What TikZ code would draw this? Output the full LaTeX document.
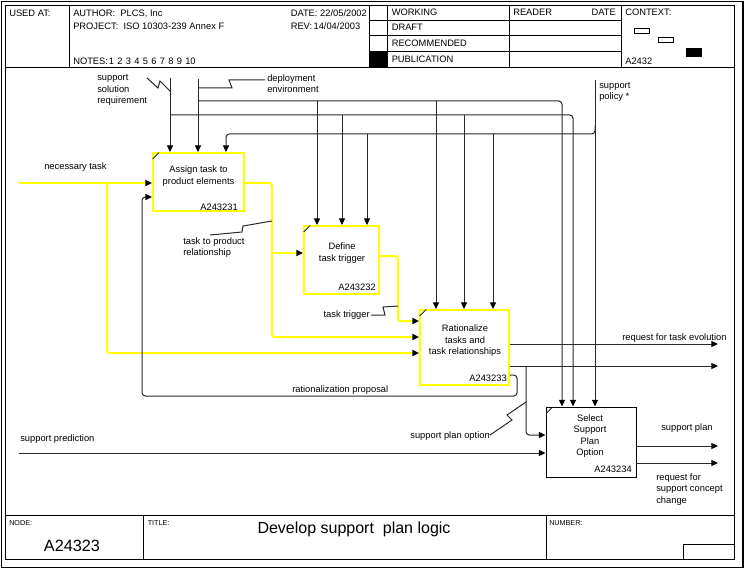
\documentclass[tikz,border=0pt]{standalone}
\usepackage{fontspec}
\setmainfont{Liberation Sans}
\usetikzlibrary{arrows.meta,fit}
\definecolor{hl}{RGB}{255,255,0}
\definecolor{ln}{RGB}{40,40,40}
\begin{document}
\begin{tikzpicture}[x=0.75pt,y=-0.75pt,
  lbl/.style={font=\fontsize{7}{8.6}\selectfont, inner sep=0pt, align=left},
  hdr/.style={font=\fontsize{7}{8.6}\selectfont, inner sep=0pt, anchor=base west},
  small/.style={font=\fontsize{5.4}{6}\selectfont, inner sep=0pt, anchor=base west},
  fn/.style={draw=black, line width=0.7pt, fill=white, inner sep=0pt},
  yfn/.style={draw=hl, line width=1.4pt, fill=white, inner sep=0pt,
    preaction={draw=black, line width=2.1pt}},
  wire/.style={draw=ln, line width=0.75pt},
  ywire/.style={draw=hl, line width=1.5pt},
  arr/.style={-{Triangle[length=5pt,width=4.5pt,color=black]}},
  frame/.style={draw=black, line width=0.7pt},
  tick/.style={draw=black, line width=0.5pt}
]
\useasboundingbox (0,0) rectangle (745,570);
% ---------- frame ----------
\draw[draw=black, line width=1.3pt] (1.5,1.5) rectangle (743,567.5);
\draw[frame] (5.5,5.5) rectangle (734,559);
% header
\draw[frame] (5.5,67) -- (734,67);
\draw[frame] (69,5.5) -- (69,67);
\draw[frame] (369,5.5) -- (369,67);
\draw[frame] (387,5.5) -- (387,67);
\draw[frame] (509,5.5) -- (509,67);
\draw[frame] (621,5.5) -- (621,67);
\draw[frame] (369,20) -- (621,20);
\draw[frame] (369,35.7) -- (621,35.7);
\draw[frame] (369,51.5) -- (621,51.5);
\fill[black] (369,51.5) rectangle (387,67);
\node[hdr] (usedat) at (9,16.7) {USED AT:};
\node[hdr] (author) at (73,16.7) {AUTHOR:\ \ PLCS, Inc};
\node[hdr] (project) at (73,29.8) {PROJECT:\ \ ISO 10303-239 Annex F};
\node[hdr] (notes) at (73,64.3) {NOTES:};
\node[hdr] (note1) at (108.5,64.3) {1};
\node[hdr] (note2) at (117,64.3) {2};
\node[hdr] (note3) at (125.5,64.3) {3};
\node[hdr] (note4) at (134,64.3) {4};
\node[hdr] (note5) at (142.5,64.3) {5};
\node[hdr] (note6) at (151,64.3) {6};
\node[hdr] (note7) at (159.5,64.3) {7};
\node[hdr] (note8) at (168,64.3) {8};
\node[hdr] (note9) at (176.5,64.3) {9};
\node[hdr] (note10) at (185,64.3) {10};
\node[hdr] (date) at (290.5,16.7) {DATE: 22/05/2002};
\node[hdr] (rev) at (290.5,29.8) {REV:};
\node[hdr] (revd) at (313.3,29.8) {14/04/2003};
\node[hdr] (working) at (391.5,15.9) {WORKING};
\node[hdr] (draft) at (391.5,30.5) {DRAFT};
\node[hdr] (recom) at (391.5,46.2) {RECOMMENDED};
\node[hdr] (publ) at (391.5,62.4) {PUBLICATION};
\node[hdr] (reader) at (513,15.9) {READER};
\node[hdr, anchor=base east] (rdate) at (616,15.9) {DATE};
\node[hdr] (context) at (625,15.9) {CONTEXT:};
\node[hdr] (ctxid) at (625,64.3) {A2432};
\draw[line width=0.6pt] (634,28) rectangle (649,33.5);
\draw[line width=0.6pt] (658,37) rectangle (673,42.5);
\fill[black] (686,48) rectangle (702,57);
% footer
\draw[frame] (5.5,515) -- (734,515);
\draw[frame] (143.5,515) -- (143.5,559);
\draw[frame] (546,515) -- (546,559);
\draw[frame] (683,544) -- (683,559);
\draw[frame] (683,544) -- (734,544);
\node[small] (nodel) at (9,525) {NODE:};
\node[small] (titlel) at (147.5,525) {TITLE:};
\node[small] (numl) at (549,525) {NUMBER:};
\node[font=\fontsize{12.2}{14}\selectfont, inner sep=0pt, anchor=base] (nodeid) at (72,551.7) {A24323};
\node[font=\fontsize{12}{14}\selectfont, inner sep=0pt, anchor=base] (title) at (354,533) {Develop support\ \ plan logic};
% ---------- activity boxes ----------
\node[yfn, fit={(153,153) (244,211)}] (b1) {};
\node[yfn, fit={(304,226) (379,294)}] (b2) {};
\node[yfn, fit={(420,310) (509,385)}] (b3) {};
\node[fn, fit={(546,407) (636,477)}] (b4) {};
\draw[tick] ([shift={(0.5,7)}]b1.north west) -- ([shift={(7,0.5)}]b1.north west);
\draw[tick] ([shift={(0.5,7)}]b2.north west) -- ([shift={(7,0.5)}]b2.north west);
\draw[tick] ([shift={(0.5,7)}]b3.north west) -- ([shift={(7,0.5)}]b3.north west);
\draw[tick] ([shift={(0.5,7)}]b4.north west) -- ([shift={(7,0.5)}]b4.north west);
\node[lbl, align=center] (b1t) at (198.5,176) {Assign task to\\product elements};
\node[lbl, anchor=base east] (b1id) at (238,210) {A243231};
\node[lbl, align=center] (b2t) at (342,253) {Define\\task trigger};
\node[lbl, anchor=base east] (b2id) at (376,290) {A243232};
\node[lbl, align=center] (b3t) at (465,341) {Rationalize\\tasks and\\task relationships};
\node[lbl, anchor=base east] (b3id) at (507,381.5) {A243233};
\node[lbl, align=center] (b4t) at (590,436) {Select\\Support\\Plan\\Option};
\node[lbl, anchor=base east] (b4id) at (632,472) {A243234};
% ---------- free ends ----------
\coordinate (ssr) at (170,78);
\coordinate (dep) at (198,79);
\coordinate (pol) at (595,80);
\coordinate (nt) at (19,183);
\coordinate (spred) at (19,453);
\coordinate (rte) at (718,344);
\coordinate (o2) at (718,366);
\coordinate (spl) at (718,446);
\coordinate (rsc) at (718,463);
% ---------- controls ----------
\draw[wire,arr] (ssr) -- (ssr |- b1.north);
\draw[wire,arr] (dep) -- (dep |- b1.north);
\draw[wire,arr] (pol) -- (pol |- b4.north);
\draw[wire,arr,rounded corners=2.5pt] (dep |- 0,101) -- (562,101) -- (562,0 |- b4.north);
\draw[wire,arr] (317,101) -- (317,0 |- b2.north);
\draw[wire,arr] (436,101) -- (436,0 |- b3.north);
\draw[wire,arr,rounded corners=2.5pt] (ssr |- 0,115) -- (573,115) -- (573,0 |- b4.north);
\draw[wire,arr] (342,115) -- (342,0 |- b2.north);
\draw[wire,arr] (464,115) -- (464,0 |- b3.north);
\draw[wire,arr,rounded corners=2.5pt] (pol |- 0,126) -- (pol |- 0,134) -- (226,134) -- (226,0 |- b1.north);
\draw[wire,arr] (367,134) -- (367,0 |- b2.north);
\draw[wire,arr] (493,134) -- (493,0 |- b3.north);
% ---------- inputs / outputs ----------
\draw[ywire,arr] (nt) -- (nt -| b1.west);
\draw[ywire,arr,rounded corners=2pt] (107,183) -- (107,353) -- (b3.west |- 0,353);
\draw[ywire,arr,rounded corners=2pt] (b1.east |- 0,183) -- (272,183) -- (272,337) -- (b3.west |- 0,337);
\draw[ywire,arr] (272,253) -- (b2.west |- 0,253);
\draw[ywire,arr,rounded corners=2pt] (b2.east |- 0,256) -- (398,256) -- (398,321) -- (b3.west |- 0,321);
\draw[wire,arr,rounded corners=2.5pt] (b3.east |- 0,375) -- (517,375) -- (517,396) -- (142,396) -- (142,197) -- (b1.west |- 0,197);
\draw[wire,arr] (b3.east |- 0,344) -- (rte);
\draw[wire,arr] (b3.east |- 0,366) -- (o2);
\draw[wire,arr,rounded corners=2.5pt] (526,366) -- (526,435) -- (b4.west |- 0,435);
\draw[wire,arr] (spred) -- (spred -| b4.west);
\draw[wire,arr] (b4.east |- 0,446) -- (spl);
\draw[wire,arr] (b4.east |- 0,463) -- (rsc);
% ---------- labels ----------
\node[lbl, anchor=north west] (lssr) at (97,74.5) {support\\solution\\requirement};
\node[lbl, anchor=north west] (ldep) at (267,74.5) {deployment\\environment};
\node[lbl, anchor=north west] (lpol) at (599,82) {support\\policy *};
\node[lbl, anchor=base west] (lnt) at (44,169.5) {necessary task};
\node[lbl, anchor=north west] (lttp) at (183,237) {task to product\\relationship};
\node[lbl, anchor=base east] (ltt) at (370,317.5) {task trigger};
\node[lbl, anchor=base west] (lrp) at (292,392.5) {rationalization proposal};
\node[lbl, anchor=base west] (lrte) at (622,340) {request for task evolution};
\node[lbl, anchor=base east] (lspo) at (490,438.5) {support plan option};
\node[lbl, anchor=base west] (lsp) at (20,441.5) {support prediction};
\node[lbl, anchor=base west] (lspl) at (661,430.5) {support plan};
\node[lbl, anchor=north west] (lrsc) at (656,473.5) {request for\\support concept\\change};
% squiggles
\draw[wire] (147,78) -- (158,88) -- (160,81) -- (ssr |- 0,91);
\draw[wire] (dep |- 0,88) -- (232,88) -- (229,80) -- (265,80);
\draw[wire] (272,221) -- (243,226) -- (242,232) -- (210,235);
\draw[wire] (371,315) -- (385,315) -- (383,307) -- (398,306);
\draw[wire] (490,435) -- (512,420) -- (507,415) -- (526,402);
\end{tikzpicture}
\end{document}
